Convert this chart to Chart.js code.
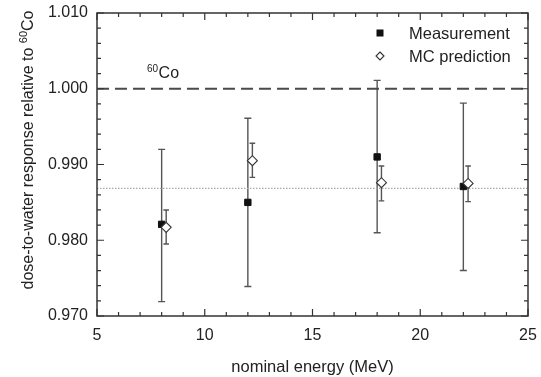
<!DOCTYPE html>
<html>
<head>
<meta charset="utf-8">
<script src="https://cdn.jsdelivr.net/npm/chart.js@4/dist/chart.umd.min.js"></script>
<style>
html,body{margin:0;padding:0;background:#fff;}
#wrap{width:541px;height:377px;}
</style>
</head>
<body>
<div id="wrap"><canvas id="c" width="541" height="377"></canvas></div>
<script>
// ---- data ----
const measEnergy = [8, 12, 18, 22];
const measValue  = [0.9821, 0.9850, 0.9910, 0.9871];
const measLow    = [0.9719, 0.9739, 0.9810, 0.9760];
const measHigh   = [0.9920, 0.9961, 1.0011, 0.9981];

const mcEnergy = [8.21, 12.21, 18.2, 22.22];
const mcValue  = [0.9817, 0.9905, 0.9876, 0.9875];
const mcLow    = [0.9795, 0.9883, 0.9852, 0.9851];
const mcHigh   = [0.9840, 0.9928, 0.9898, 0.9898];

const coLevel = 1.000;
const meanLevel = 0.98685;
const xRange = [5, 25];
const yRange = [0.970, 1.010];
const xTicks = [5, 10, 15, 20, 25];
const yTicks = [0.970, 0.980, 0.990, 1.000, 1.010];
const legendLabels = ['Measurement', 'MC prediction'];
const xTitle = 'nominal energy (MeV)';
const yTitleMain = 'dose-to-water response relative to ';

const FONT = '"Liberation Sans", Arial, Helvetica, sans-serif';
const INK = '#222';

const overlay = {
  id: 'overlay',
  beforeDatasetsDraw(chart) {
    const {ctx, chartArea: a, scales: {x, y}} = chart;
    ctx.save();
    ctx.strokeStyle = '#555';
    ctx.lineWidth = 1.4;
    const bar = (xs, lo, hi, cap) => {
      for (let i = 0; i < xs.length; i++) {
        const px = x.getPixelForValue(xs[i]);
        const y1 = y.getPixelForValue(lo[i]);
        const y2 = y.getPixelForValue(hi[i]);
        ctx.beginPath();
        ctx.moveTo(px, y1); ctx.lineTo(px, y2);
        ctx.moveTo(px - cap, y1); ctx.lineTo(px + cap, y1);
        ctx.moveTo(px - cap, y2); ctx.lineTo(px + cap, y2);
        ctx.stroke();
      }
    };
    bar(measEnergy, measLow, measHigh, 3.5);
    bar(mcEnergy, mcLow, mcHigh, 2.8);
    ctx.restore();
  },
  afterDraw(chart) {
    const {ctx, chartArea: a, scales: {x, y}} = chart;
    ctx.save();
    ctx.strokeStyle = '#333';
    ctx.lineWidth = 1.5;
    ctx.strokeRect(a.left, a.top, a.right - a.left, a.bottom - a.top);
    ctx.lineWidth = 1.2;
    ctx.beginPath();
    for (let v = xRange[0]; v <= xRange[1] + 1e-9; v += 1) {
      const px = x.getPixelForValue(v);
      const len = (Math.round(v) % 5 === 0) ? 7 : 4;
      ctx.moveTo(px, a.bottom); ctx.lineTo(px, a.bottom - len);
      ctx.moveTo(px, a.top); ctx.lineTo(px, a.top + len);
    }
    for (let k = 0; k <= 20; k++) {
      const v = yRange[0] + k * 0.002;
      const py = y.getPixelForValue(v);
      const len = (k % 5 === 0) ? 7 : 4;
      ctx.moveTo(a.left, py); ctx.lineTo(a.left + len, py);
      ctx.moveTo(a.right, py); ctx.lineTo(a.right - len, py);
    }
    ctx.stroke();

    // legend
    ctx.fillStyle = '#111';
    ctx.fillRect(376.5, 29.5, 7, 7);
    ctx.beginPath();
    ctx.moveTo(380, 52); ctx.lineTo(384, 56); ctx.lineTo(380, 60); ctx.lineTo(376, 56); ctx.closePath();
    ctx.fillStyle = '#fff'; ctx.fill();
    ctx.strokeStyle = '#333'; ctx.lineWidth = 1.1; ctx.stroke();
    ctx.fillStyle = INK;
    ctx.font = '16.5px ' + FONT;
    ctx.textBaseline = 'middle';
    ctx.textAlign = 'left';
    ctx.fillText(legendLabels[0], 409, 34);
    ctx.fillText(legendLabels[1], 409, 57);

    // 60Co annotation
    ctx.font = '10px ' + FONT;
    ctx.textBaseline = 'alphabetic';
    ctx.fillText('60', 147, 72);
    const w60 = ctx.measureText('60').width;
    ctx.font = '16px ' + FONT;
    ctx.fillText('Co', 147 + w60 + 0.5, 78);

    // y title (rotated with superscript)
    ctx.translate(33, 150);
    ctx.rotate(-Math.PI / 2);
    ctx.font = '16px ' + FONT;
    const wMain = ctx.measureText(yTitleMain).width;
    ctx.font = '11px ' + FONT;
    const wSup = ctx.measureText('60').width;
    ctx.font = '16px ' + FONT;
    const wCo = ctx.measureText('Co').width;
    const total = wMain + wSup + wCo;
    let sx = -total / 2;
    ctx.fillText(yTitleMain, sx, 0);
    sx += wMain;
    ctx.font = '11px ' + FONT;
    ctx.fillText('60', sx, -6);
    sx += wSup;
    ctx.font = '16px ' + FONT;
    ctx.fillText('Co', sx, 0);
    ctx.restore();
  }
};

const data = {
  datasets: [
    {
      label: 'co', type: 'line',
      data: xRange.map(v => ({x: v, y: coLevel})),
      borderColor: '#4a4a4a', borderWidth: 2, borderDash: [12, 6],
      pointRadius: 0, fill: false, order: 3
    },
    {
      label: 'mean', type: 'line',
      data: xRange.map(v => ({x: v, y: meanLevel})),
      borderColor: '#aaa', borderWidth: 1.2, borderDash: [1.5, 1.5],
      pointRadius: 0, fill: false, order: 3
    },
    {
      label: legendLabels[0], type: 'scatter',
      data: measEnergy.map((e, i) => ({x: e, y: measValue[i]})),
      pointStyle: 'rect', pointRadius: 4.5, backgroundColor: '#111', borderColor: '#111', borderWidth: 1,
      order: 1
    },
    {
      label: legendLabels[1], type: 'scatter',
      data: mcEnergy.map((e, i) => ({x: e, y: mcValue[i]})),
      pointStyle: 'rectRot', pointRadius: 5, backgroundColor: '#fff', borderColor: '#333', borderWidth: 1.1,
      order: 0
    }
  ]
};

new Chart(document.getElementById('c'), {
  type: 'scatter',
  data,
  options: {
    responsive: false,
    animation: false,
    devicePixelRatio: 1,
    layout: {padding: {top: 13, right: 13, left: 0, bottom: 0}},
    plugins: {legend: {display: false}, tooltip: {enabled: false}},
    scales: {
      x: {
        type: 'linear', min: xRange[0], max: xRange[1],
        afterBuildTicks: s => { s.ticks = xTicks.map(v => ({value: v})); },
        afterFit: s => { s.height = 61; s.paddingLeft = 0; s.paddingRight = 0; },
        grid: {display: false, drawTicks: false},
        border: {display: false},
        ticks: {color: INK, font: {family: FONT, size: 16}, padding: 10, maxRotation: 0},
        title: {display: true, text: xTitle, color: INK, font: {family: FONT, size: 16.5}, padding: {top: 6, bottom: 0}}
      },
      y: {
        type: 'linear', min: yRange[0], max: yRange[1],
        afterBuildTicks: s => { s.ticks = yTicks.map(v => ({value: v})); },
        afterFit: s => { s.width = 97; s.paddingTop = 0; s.paddingBottom = 0; },
        grid: {display: false, drawTicks: false},
        border: {display: false},
        ticks: {color: INK, font: {family: FONT, size: 16}, padding: 9, callback: v => Number(v).toFixed(3)},
        title: {display: false}
      }
    }
  },
  plugins: [overlay]
});
</script>
</body>
</html>
